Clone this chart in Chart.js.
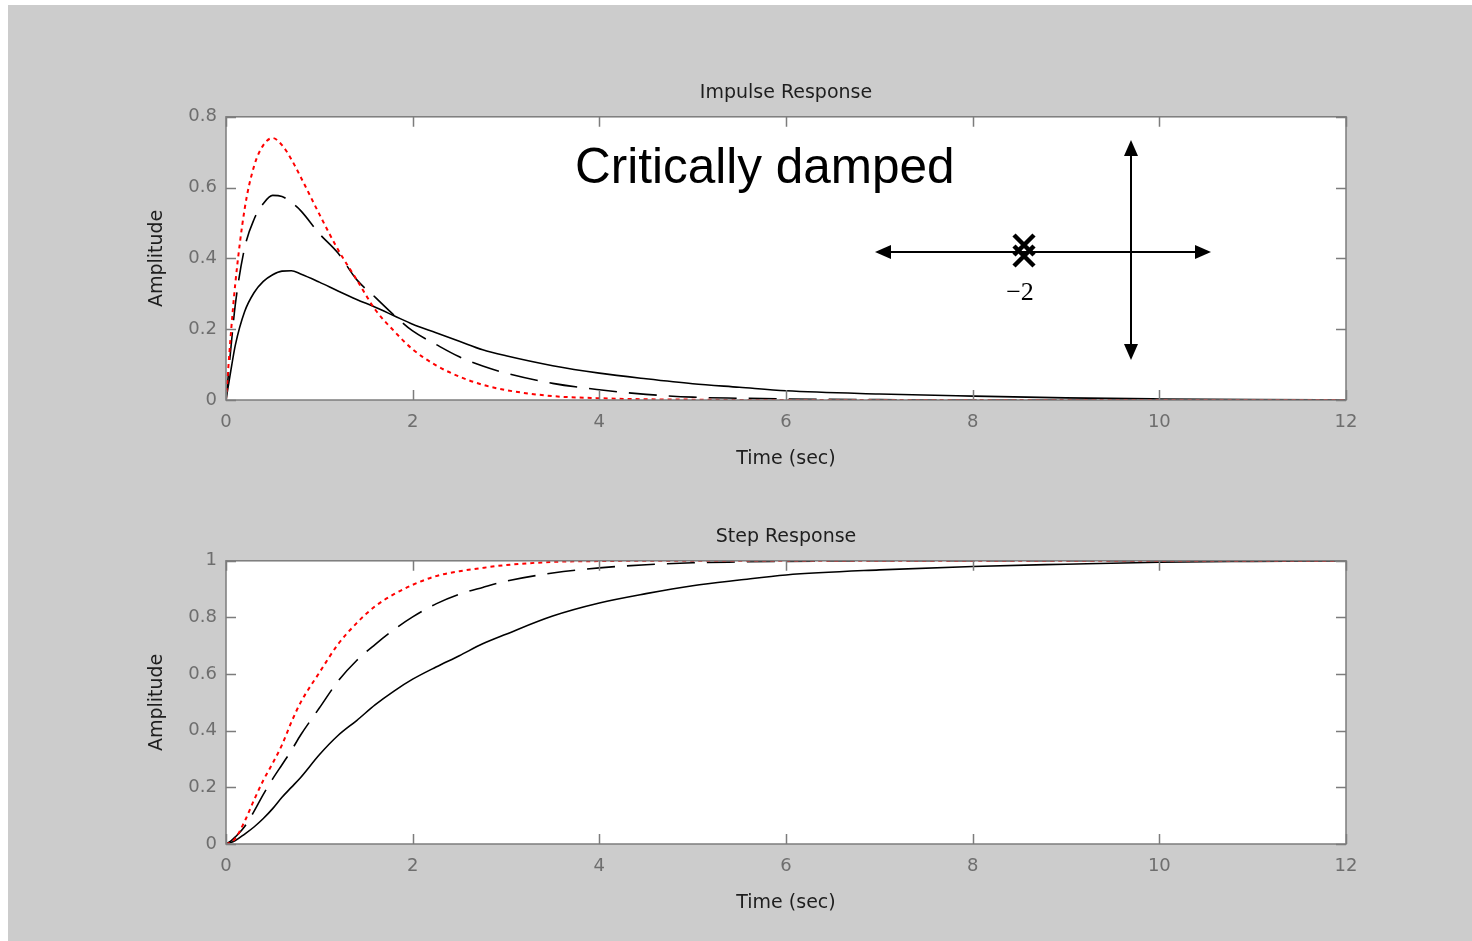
<!DOCTYPE html>
<html>
<head>
<meta charset="utf-8">
<script src="https://cdn.jsdelivr.net/npm/chart.js@4.4.1/dist/chart.umd.min.js"></script>
<style>
  body { margin: 0; background: #ffffff; width: 1472px; height: 941px; overflow: hidden; }
  #bg { position: absolute; left: 8px; top: 5px; width: 1464px; height: 936px; background: #cccccc; }
  canvas { position: absolute; left: 0; }
  #impulse { top: 0; }
  #step { top: 444px; }
</style>
</head>
<body>
<div id="bg"></div>
<canvas id="impulse" width="1472" height="470"></canvas>
<canvas id="step" width="1472" height="470"></canvas>
<script>
var time = [0, 0.05, 0.1, 0.2, 0.3, 0.4, 0.5, 0.6, 0.7, 0.8, 1.0, 1.2, 1.4, 1.6, 1.8, 2.0,
            2.25, 2.5, 2.75, 3.0, 3.5, 4.0, 4.5, 5.0, 5.5, 6, 7, 8, 9, 10, 11, 12];

// impulse response
var impulseRed = [0, 0.18, 0.33, 0.54, 0.66, 0.72, 0.74, 0.72, 0.68, 0.63, 0.525, 0.425, 0.34, 0.255, 0.195, 0.143,
                  0.098, 0.066, 0.043, 0.028, 0.011, 0.005, 0.002, 0.001, 0, 0, 0, 0, 0, 0, 0, 0];
var impulseDashed = [0, 0.14, 0.27, 0.43, 0.51, 0.555, 0.578, 0.575, 0.558, 0.535, 0.47, 0.415, 0.34, 0.29, 0.24, 0.195,
                     0.157, 0.122, 0.096, 0.076, 0.047, 0.029, 0.016, 0.008, 0.005, 0.003, 0.001, 0, 0, 0, 0, 0];
var impulseSolid = [0, 0.08, 0.155, 0.25, 0.303, 0.335, 0.354, 0.364, 0.365, 0.356, 0.333, 0.308, 0.284, 0.262, 0.238, 0.214,
                    0.19, 0.166, 0.142, 0.125, 0.097, 0.076, 0.06, 0.046, 0.036, 0.026, 0.017, 0.011, 0.006, 0.003, 0.001, 0];

// step response
var stepRed = [0, 0.005, 0.02, 0.08, 0.155, 0.225, 0.285, 0.35, 0.43, 0.5, 0.605, 0.705, 0.78, 0.84, 0.882, 0.915,
               0.946, 0.963, 0.975, 0.985, 0.996, 0.999, 1, 1, 1, 1, 1, 1, 1, 1, 1, 1];
var stepDashed = [0, 0.01, 0.025, 0.062, 0.115, 0.175, 0.23, 0.28, 0.33, 0.385, 0.48, 0.575, 0.648, 0.705, 0.757, 0.802,
                  0.848, 0.882, 0.906, 0.928, 0.957, 0.975, 0.986, 0.993, 0.996, 0.998, 1, 1, 1, 1, 1, 1];
var stepSolid = [0, 0.005, 0.012, 0.035, 0.06, 0.09, 0.125, 0.165, 0.2, 0.235, 0.315, 0.383, 0.436, 0.492, 0.54, 0.582,
                 0.625, 0.665, 0.707, 0.741, 0.805, 0.851, 0.884, 0.912, 0.932, 0.95, 0.968, 0.98, 0.988, 0.995, 0.998, 1];

var xTicks = [0, 2, 4, 6, 8, 10, 12];

function points(vals) {
    return time.map(function (t, i) { return { x: t, y: vals[i] }; });
}

function series(vals, color, dash, width, order) {
    return {
        data: points(vals),
        borderColor: color,
        borderWidth: width,
        borderDash: dash,
        pointRadius: 0,
        cubicInterpolationMode: 'monotone',
        order: order
    };
}

// wit vlak achter de lijnen
var areaPlugin = {
    id: 'area',
    beforeDraw: function (chart) {
        var a = chart.chartArea;
        chart.ctx.save();
        chart.ctx.fillStyle = '#ffffff';
        chart.ctx.fillRect(a.left, a.top, a.right - a.left, a.bottom - a.top);
        chart.ctx.restore();
    }
};

// kader met tickjes naar binnen, zoals matlab
var boxPlugin = {
    id: 'box',
    afterDraw: function (chart) {
        var ctx = chart.ctx, a = chart.chartArea;
        var x = chart.scales.x, y = chart.scales.y;
        ctx.save();
        ctx.strokeStyle = '#7c7c7c';
        ctx.lineWidth = 1.5;
        ctx.strokeRect(a.left, a.top, a.right - a.left, a.bottom - a.top);
        ctx.beginPath();
        x.ticks.forEach(function (t) {
            var px = Math.round(x.getPixelForValue(t.value)) + 0.5;
            ctx.moveTo(px, a.bottom); ctx.lineTo(px, a.bottom - 10);
            ctx.moveTo(px, a.top); ctx.lineTo(px, a.top + 10);
        });
        y.ticks.forEach(function (t) {
            var py = Math.round(y.getPixelForValue(t.value)) + 0.5;
            ctx.moveTo(a.left, py); ctx.lineTo(a.left + 10, py);
            ctx.moveTo(a.right, py); ctx.lineTo(a.right - 10, py);
        });
        ctx.stroke();
        ctx.restore();
    }
};

function arrowHead(ctx, x, y, dx, dy) {
    // dx,dy = richting van de punt
    var len = 16, half = 7;
    ctx.beginPath();
    ctx.moveTo(x, y);
    ctx.lineTo(x - dx * len - dy * half, y - dy * len - dx * half);
    ctx.lineTo(x - dx * len + dy * half, y - dy * len + dx * half);
    ctx.closePath();
    ctx.fill();
}

// tekst en pool-nulpunt schets in de bovenste grafiek
var notePlugin = {
    id: 'note',
    afterDraw: function (chart) {
        var ctx = chart.ctx;
        ctx.save();
        ctx.fillStyle = '#000';
        ctx.strokeStyle = '#000';
        ctx.font = '49.5px "Liberation Sans"';
        ctx.textBaseline = 'alphabetic';
        ctx.textAlign = 'left';
        ctx.fillText('Critically damped', 575, 183);

        ctx.lineWidth = 2;
        ctx.beginPath();
        ctx.moveTo(880, 252); ctx.lineTo(1205, 252);
        ctx.moveTo(1131, 146); ctx.lineTo(1131, 354);
        ctx.stroke();
        arrowHead(ctx, 875, 252, -1, 0);
        arrowHead(ctx, 1211, 252, 1, 0);
        arrowHead(ctx, 1131, 140, 0, -1);
        arrowHead(ctx, 1131, 360, 0, 1);

        ctx.lineWidth = 4.5;
        [245, 256].forEach(function (cy) {
            ctx.beginPath();
            ctx.moveTo(1014, cy - 10); ctx.lineTo(1034, cy + 10);
            ctx.moveTo(1034, cy - 10); ctx.lineTo(1014, cy + 10);
            ctx.stroke();
        });

        ctx.font = '26px "Liberation Serif"';
        ctx.textAlign = 'center';
        ctx.textBaseline = 'middle';
        ctx.fillText('\u22122', 1020, 293);
        ctx.restore();
    }
};

function makeChart(id, title, yMax, sets, extra) {
    var plugins = [areaPlugin, boxPlugin];
    if (extra) plugins.push(extra);
    return new Chart(document.getElementById(id), {
        type: 'line',
        data: { datasets: sets },
        plugins: plugins,
        options: {
            responsive: false,
            animation: false,
            devicePixelRatio: 1,
            layout: { padding: { left: 0, right: 126, top: 0, bottom: 0 } },
            plugins: {
                legend: { display: false },
                tooltip: { enabled: false },
                title: {
                    display: true,
                    text: title,
                    fullSize: false,
                    color: '#1e1e1e',
                    font: { family: 'DejaVu Sans', size: 19, weight: 'normal' },
                    padding: { top: 82, bottom: 12 }
                }
            },
            scales: {
                x: {
                    type: 'linear',
                    min: 0, max: 12,
                    afterBuildTicks: function (s) { s.ticks = xTicks.map(function (v) { return { value: v }; }); },
                    afterFit: function (s) { s.height = 70; },
                    grid: { drawOnChartArea: false, drawTicks: false },
                    border: { display: false },
                    ticks: { color: '#6e6e6e', padding: 12, font: { family: 'DejaVu Sans', size: 18 } },
                    title: {
                        display: true, text: 'Time (sec)', color: '#1e1e1e',
                        font: { family: 'DejaVu Sans', size: 19 },
                        padding: { top: 0, bottom: 0 }
                    }
                },
                y: {
                    min: 0, max: yMax,
                    ticks: {
                        stepSize: 0.2, color: '#6e6e6e', padding: 9,
                        font: { family: 'DejaVu Sans', size: 18 },
                        callback: function (v) { return String(Math.round(v * 10) / 10); }
                    },
                    afterFit: function (s) { s.width = 226; },
                    grid: { drawOnChartArea: false, drawTicks: false },
                    border: { display: false },
                    title: {
                        display: true, text: 'Amplitude', color: '#1e1e1e',
                        font: { family: 'DejaVu Sans', size: 19 },
                        padding: { top: 146, bottom: 0 }
                    }
                }
            }
        }
    });
}

makeChart('impulse', 'Impulse Response', 0.8, [
    series(impulseRed, '#ff0000', [4, 4], 2, 0),
    series(impulseDashed, '#000000', [28, 12], 1.6, 1),
    series(impulseSolid, '#000000', [], 1.6, 2)
], notePlugin);

makeChart('step', 'Step Response', 1, [
    series(stepRed, '#ff0000', [4, 4], 2, 0),
    series(stepDashed, '#000000', [28, 12], 1.6, 1),
    series(stepSolid, '#000000', [], 1.6, 2)
]);
</script>
</body>
</html>
